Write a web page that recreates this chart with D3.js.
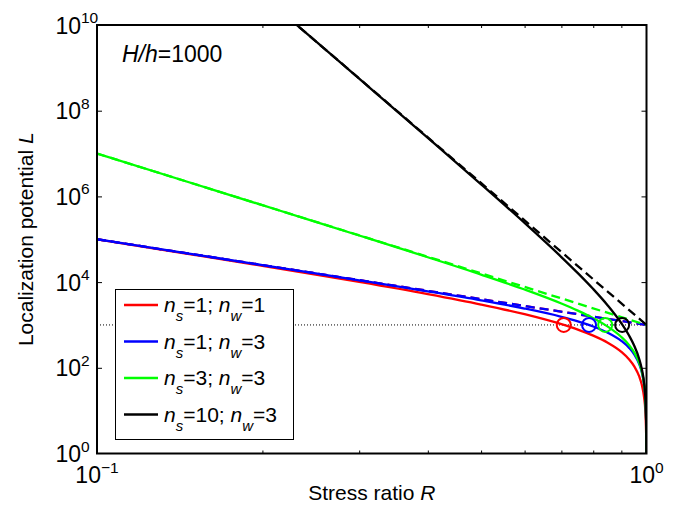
<!DOCTYPE html>
<html>
<head>
<meta charset="utf-8">
<script src="https://cdn.jsdelivr.net/npm/d3@7"></script>
<style>
  body { margin: 0; background: #fff; }
  text { font-family: "Liberation Sans", Arial, sans-serif; fill: #000; }
</style>
</head>
<body>
<div id="chart"></div>
<script>
let width = 678;
let height = 506;

// stress ratio samples (x)
let rValues = [0.1, 0.15, 0.2, 0.25, 0.3, 0.4, 0.5, 0.6, 0.7, 0.75, 0.8, 0.85, 0.9, 0.93, 0.95, 0.97, 0.98, 0.99, 0.995, 0.999, 0.9999];

// localization potential, solid curves
let lRed   = [99000, 43444, 24000, 15000, 10111, 5250, 3000, 1778, 1041, 778, 562.5, 384, 235, 156, 108, 62.8, 41.2, 20.3, 10.1, 2.0, 0.2];
let lBlue  = [99990, 44422, 24960, 15937, 11021, 6090, 3750, 2418, 1551, 1215, 922.5, 661.6, 424.6, 291.3, 205.5, 121.9, 80.8, 40.2, 20.05, 4.0, 0.4];
let lGreen = [9999000, 1974309, 624000, 255000, 122457, 38062, 15000, 6716, 3165, 2160, 1441, 916, 524, 337, 228, 130, 84.2, 41.0, 20.25, 4.0, 0.4];
let lBlack = [9.999e13, 1.155e12, 4.875e10, 4.178e9, 5.599e8, 2.323e7, 1.92e6, 2.399e5, 38428, 16187, 6872, 2857, 1095.7, 559.8, 326.2, 160.4, 96.9, 44.0, 20.98, 4.04, 0.4];

// asymptotes (dashed)
let dashR = [0.1, 1];
let dRedBlue = [1e5, 1000];
let dGreen = [1e7, 1000];
let dBlack = [1e14, 1000];

// L = H/h markers
let markerR = [0.707, 0.786, 0.841, 0.903];
let markerL = 1000;

let nsValues = [1, 1, 3, 10];
let nwValues = [1, 3, 3, 3];
let colors = ["#ff0000", "#0000ff", "#00ff00", "#000000"];

let xTicks = [0.2, 0.3, 0.4, 0.5, 0.6, 0.7, 0.8, 0.9];
let yTicks = [1e2, 1e4, 1e6, 1e8];
let yLabelExp = [0, 2, 4, 6, 8, 10];
let xLabelExp = ["\u22121", "0"];

let x0 = 97, x1 = 646.5, y0 = 25, y1 = 453.5;

let xScale = d3.scaleLog().domain([0.1, 1]).range([x0, x1]);
let yScale = d3.scaleLog().domain([1, 1e10]).range([y1, y0]);

let svg = d3.select("#chart").append("svg")
	.attr("width", width).attr("height", height);

svg.append("clipPath").attr("id", "clip")
	.append("rect").attr("x", x0).attr("y", y0).attr("width", x1 - x0).attr("height", y1 - y0);

let plot = svg.append("g").attr("clip-path", "url(#clip)");

let line = d3.line()
	.x(d => xScale(d[0]))
	.y(d => yScale(Math.max(d[1], 1e-3)))
	.curve(d3.curveMonotoneX);

// dotted reference line at H/h
plot.append("line")
	.attr("x1", xScale(0.1)).attr("x2", xScale(1))
	.attr("y1", yScale(markerL)).attr("y2", yScale(markerL))
	.attr("stroke", "#000").attr("stroke-width", 1)
	.attr("stroke-dasharray", "1,2");

let solid = [lRed, lBlue, lGreen, lBlack];
let dashed = [dRedBlue, dRedBlue, dGreen, dBlack];

solid.forEach((vals, i) => {
	plot.append("path")
		.datum(rValues.map((r, j) => [r, vals[j]]))
		.attr("d", line)
		.attr("fill", "none")
		.attr("stroke", colors[i])
		.attr("stroke-width", 2.3);
	plot.append("path")
		.datum(dashR.map((r, j) => [r, dashed[i][j]]))
		.attr("d", d3.line().x(d => xScale(d[0])).y(d => yScale(d[1])))
		.attr("fill", "none")
		.attr("stroke", colors[i])
		.attr("stroke-width", 2.3)
		.attr("stroke-dasharray", "9,5");
});

plot.selectAll(".marker").data(markerR)
	.join("circle")
	.attr("class", "marker")
	.attr("cx", d => xScale(d))
	.attr("cy", yScale(markerL))
	.attr("r", 7)
	.attr("fill", "none")
	.attr("stroke", (d, i) => colors[i])
	.attr("stroke-width", 2);

// ticks (inward, both sides)
svg.append("g").attr("transform", `translate(0,${y1})`)
	.call(d3.axisBottom(xScale).tickValues(xTicks).tickSize(-3).tickFormat(""))
	.call(g => g.select(".domain").remove());
svg.append("g").attr("transform", `translate(0,${y0})`)
	.call(d3.axisTop(xScale).tickValues(xTicks).tickSize(-3).tickFormat(""))
	.call(g => g.select(".domain").remove());
svg.append("g").attr("transform", `translate(${x0},0)`)
	.call(d3.axisLeft(yScale).tickValues(yTicks).tickSize(-5).tickFormat(""))
	.call(g => g.select(".domain").remove());
svg.append("g").attr("transform", `translate(${x1},0)`)
	.call(d3.axisRight(yScale).tickValues(yTicks).tickSize(-5).tickFormat(""))
	.call(g => g.select(".domain").remove());
svg.selectAll(".tick line").attr("stroke", "#000").attr("stroke-width", 1);

svg.append("rect")
	.attr("x", x0).attr("y", y0).attr("width", x1 - x0).attr("height", y1 - y0)
	.attr("fill", "none").attr("stroke", "#000").attr("stroke-width", 2);

// y tick labels
yLabelExp.forEach(e => {
	let y = yScale(Math.pow(10, e));
	svg.append("text").attr("x", 81).attr("y", y + 8.5)
		.attr("text-anchor", "end").attr("font-size", 23).text("10");
	svg.append("text").attr("x", 81).attr("y", y - 2)
		.attr("font-size", 15.5).text(e);
});

// x tick labels
[0.1, 1].forEach((v, i) => {
	let t = svg.append("text").attr("x", xScale(v)).attr("y", 483)
		.attr("text-anchor", "middle").attr("font-size", 23);
	t.append("tspan").text("10");
	t.append("tspan").attr("dy", -10).attr("font-size", 15.5).text(xLabelExp[i]);
});

// axis titles
let xt = svg.append("text").attr("x", (x0 + x1) / 2).attr("y", 500)
	.attr("text-anchor", "middle").attr("font-size", 21);
xt.append("tspan").text("Stress ratio ");
xt.append("tspan").attr("font-style", "italic").text("R");

let yt = svg.append("text")
	.attr("transform", `translate(33,${(y0 + y1) / 2}) rotate(-90)`)
	.attr("text-anchor", "middle").attr("font-size", 21);
yt.append("tspan").text("Localization potential ");
yt.append("tspan").attr("font-style", "italic").text("L");

let ann = svg.append("text").attr("x", 122).attr("y", 62).attr("font-size", 23);
ann.append("tspan").attr("font-style", "italic").text("H/h");
ann.append("tspan").text("=1000");

// legend
let legend = svg.append("g");
legend.append("rect")
	.attr("x", 115.5).attr("y", 289.5).attr("width", 178).attr("height", 150)
	.attr("fill", "#fff").attr("stroke", "#000").attr("stroke-width", 1);
nsValues.forEach((ns, i) => {
	let y = 305 + i * 36.5;
	legend.append("line")
		.attr("x1", 124).attr("x2", 158).attr("y1", y).attr("y2", y)
		.attr("stroke", colors[i]).attr("stroke-width", 2.3);
	let t = legend.append("text").attr("x", 164).attr("y", y + 7).attr("font-size", 21);
	t.append("tspan").attr("font-style", "italic").text("n");
	t.append("tspan").attr("font-style", "italic").attr("font-size", 15).attr("dy", 9).text("s");
	t.append("tspan").attr("dy", -9).text("=" + ns + "; ");
	t.append("tspan").attr("font-style", "italic").text("n");
	t.append("tspan").attr("font-style", "italic").attr("font-size", 15).attr("dy", 9).text("w");
	t.append("tspan").attr("dy", -9).text("=" + nwValues[i]);
});
</script>
</body>
</html>
